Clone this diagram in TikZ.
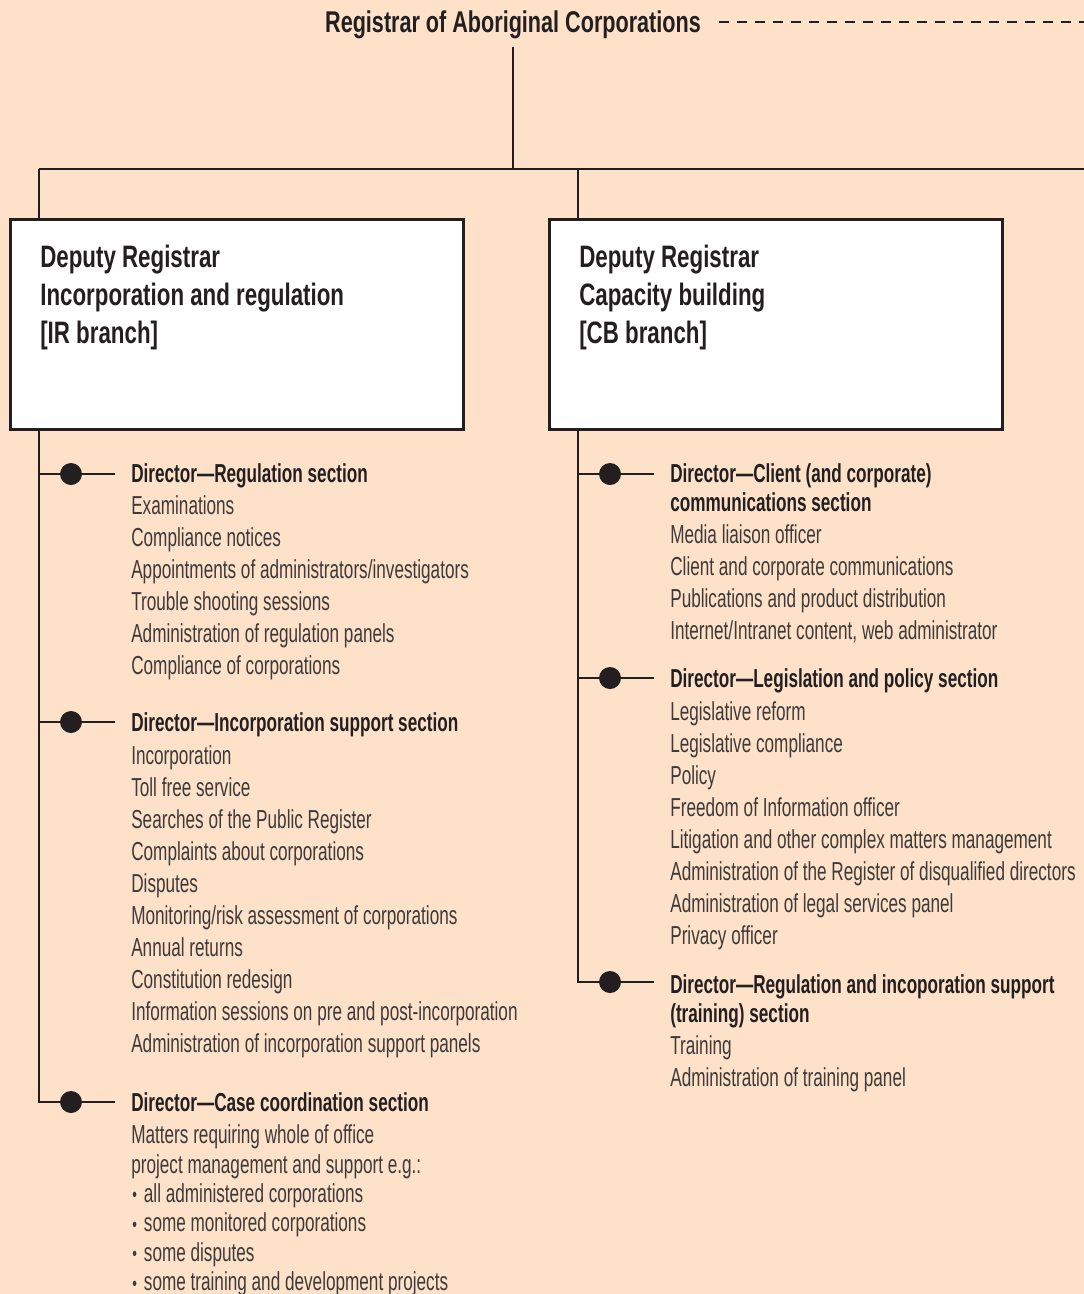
\documentclass[tikz,border=0pt]{standalone}
\usepackage{fontspec}
\setmainfont{Liberation Sans}[FakeStretch=0.66]
\newfontfamily\largo{Liberation Sans}[FakeStretch=0.72]
\usetikzlibrary{positioning}
\definecolor{pesca}{RGB}{253,225,201}
\definecolor{inchiostro}{RGB}{35,31,32}
\definecolor{grigio}{RGB}{62,58,58}

\begin{document}
\begin{tikzpicture}[x=1pt, y=-1pt, line width=2.6pt, color=inchiostro,
			titolo/.style={anchor=base, inner sep=0pt,
				font=\largo\fontsize{30}{36}\selectfont\bfseries},
			ramo/.style={draw=inchiostro, fill=white, line width=2.6pt,
				minimum width=453pt, minimum height=210pt,
				anchor=north west, inner sep=0pt},
			nomeramo/.style={anchor=north west, align=left, inner sep=0pt,
				font=\largo\fontsize{31}{38}\selectfont\bfseries},
			capo/.style={anchor=base west, inner sep=0pt,
				font=\fontsize{26}{29}\selectfont\bfseries},
			voce/.style={anchor=base west, inner sep=0pt, text=grigio,
				font=\fontsize{26}{32}\selectfont},
			pallino/.style={circle, fill=inchiostro, inner sep=0pt,
				minimum size=22pt},
			tratteggio/.style={line width=2pt, dash pattern=on 10pt off 8pt}]
			
			%% sfondo e cornice
			\fill[pesca] (0,0) rectangle (1084,1294);
			\useasboundingbox (0,0) rectangle (1084,1294);
			
			%% registrar in alto
			\node[titolo] (reg) at (513,32) {Registrar of Aboriginal Corporations};
			\coordinate (trattoA) at ([xshift=17pt]reg.east);
			\coordinate (trattoB) at (1084,22);
			\draw[tratteggio] (trattoA |- trattoB) -- (trattoB);
			
			%% linea orizzontale di collegamento
			\coordinate (nodo) at (513,169);
			\coordinate (sx) at (39,169);
			\coordinate (cx) at (578,169);
			\coordinate (dx) at (1084,169);
			\draw[line width=2pt, shorten <=7pt] (reg.south) -- (nodo);
			\draw (sx) -- (dx);
			
			%% i due rami
			\node[ramo] (irbox) at (9,218) {};
			\node[ramo] (cbbox) at (548,218) {};
			\draw (sx) -- (sx |- irbox.north);
			\draw (cx) -- (cx |- cbbox.north);
			\node[nomeramo] (irnome) at (39,243.5)
				{Deputy Registrar\\Incorporation and regulation\\{[IR branch]}};
			\node[nomeramo] (cbnome) at (578,243.5)
				{Deputy Registrar\\Capacity building\\{[CB branch]}};
			
			%% ramo IR: pallini e tronco
			\node[pallino] (irdot1) at (71,474) {};
			\node[pallino] (irdot2) at (71,722) {};
			\node[pallino] (irdot3) at (71,1102) {};
			\foreach \k in {1,2,3}
				\coordinate (irfine\k) at ([xshift=44pt]irdot\k.center);
			\draw (irbox.south -| sx) |- (irfine3);
			\draw (sx |- irdot1) -- (irfine1);
			\draw (sx |- irdot2) -- (irfine2);
			
			%% ramo CB: pallini e tronco
			\node[pallino] (cbdot1) at (610,474) {};
			\node[pallino] (cbdot2) at (610,678) {};
			\node[pallino] (cbdot3) at (610,982) {};
			\foreach \k in {1,2,3}
				\coordinate (cbfine\k) at ([xshift=44pt]cbdot\k.center);
			\draw (cbbox.south -| cx) |- (cbfine3);
			\draw (cx |- cbdot1) -- (cbfine1);
			\draw (cx |- cbdot2) -- (cbfine2);
			
			%% sezioni IR
			\node[capo] (irsez1) at (130,482) {Director---Regulation section};
			\foreach \t [count=\i] in {Examinations, Compliance notices,
				Appointments of administrators/investigators,
				Trouble shooting sessions, Administration of regulation panels,
				Compliance of corporations}
				\node[voce] (irvoceA\i) at (130,{514+32*(\i-1)}) {\t};
			
			\node[capo] (irsez2) at (130,731) {Director---Incorporation support section};
			\foreach \t [count=\i] in {Incorporation, Toll free service,
				Searches of the Public Register, Complaints about corporations,
				Disputes, Monitoring/risk assessment of corporations,
				Annual returns, Constitution redesign,
				Information sessions on pre and post-incorporation,
				Administration of incorporation support panels}
				\node[voce] (irvoceB\i) at (130,{764+32*(\i-1)}) {\t};
			
			\node[capo] (irsez3) at (130,1111) {Director---Case coordination section};
			\node[voce] (irvoceC1) at (130,1143) {Matters requiring whole of office};
			\node[voce] (irvoceC2) at (130,1173) {project management and support e.g.:};
			\foreach \t [count=\i] in {all administered corporations,
				some monitored corporations, some disputes,
				some training and development projects}
				\node[voce] (irpunto\i) at (131,{1202+29.5*(\i-1)})
					{\raisebox{0.5pt}{\fontsize{20}{20}\selectfont\textbullet}\hspace{7pt}\t};
			
			%% sezioni CB
			\node[capo] (cbsez1) at (669,482) {Director---Client (and corporate)};
			\node[capo] (cbsez1b) at (669,511) {communications section};
			\foreach \t [count=\i] in {Media liaison officer,
				Client and corporate communications,
				Publications and product distribution,
				{Internet/Intranet content, web administrator}}
				\node[voce] (cbvoceA\i) at (669,{543+32*(\i-1)}) {\t};
			
			\node[capo] (cbsez2) at (669,687) {Director---Legislation and policy section};
			\foreach \t [count=\i] in {Legislative reform, Legislative compliance,
				Policy, Freedom of Information officer,
				Litigation and other complex matters management,
				Administration of the Register of disqualified directors,
				Administration of legal services panel, Privacy officer}
				\node[voce] (cbvoceB\i) at (669,{720+32*(\i-1)}) {\t};
			
			\node[capo] (cbsez3) at (669,993) {Director---Regulation and incoporation support};
			\node[capo] (cbsez3b) at (669,1022) {(training) section};
			\node[voce] (cbvoceC1) at (669,1054) {Training};
			\node[voce] (cbvoceC2) at (669,1086) {Administration of training panel};
			
		\end{tikzpicture}
\end{document}
